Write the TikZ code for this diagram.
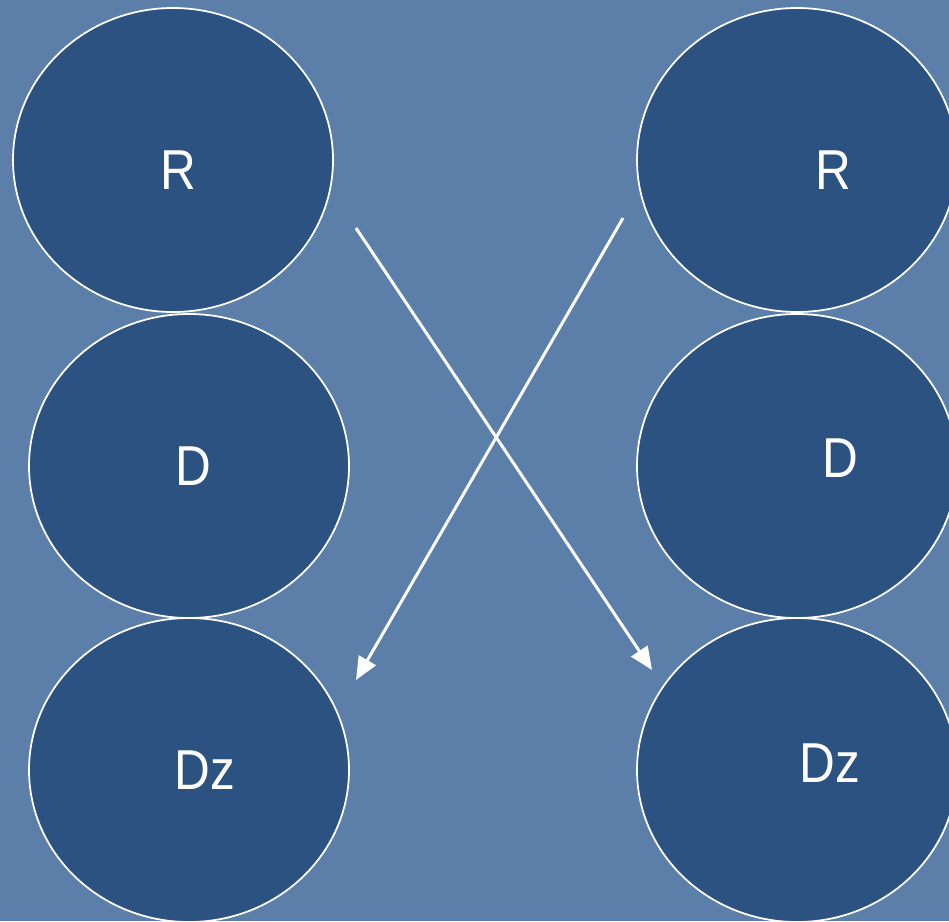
\documentclass[tikz,border=0pt]{standalone}
\usepackage{fontspec}
\setmainfont{Liberation Sans}
\usetikzlibrary{arrows.meta}
\definecolor{bg}{HTML}{5B7FA8}
\definecolor{ell}{HTML}{2B5281}
\tikzset{
  oval/.style={draw=white, line width=0.5pt, fill=ell},
  lbl/.style={text=white, font=\fontsize{16}{19}\selectfont, inner sep=0pt, xscale=0.88},
  arr/.style={draw=white, line width=0.85pt, -{Triangle[length=6.5pt,width=5.5pt]}}
}
\begin{document}
\begin{tikzpicture}[x=0.01cm,y=-0.01cm]
\useasboundingbox (0,0) rectangle (949,921);
\fill[bg] (0,0) rectangle (949,921);
\begin{scope}
\clip (0,0) rectangle (949,921);
\draw[oval] (173,160) ellipse [x radius=160, y radius=152];
\draw[oval] (189,466) ellipse [x radius=160, y radius=152];
\draw[oval] (189,770) ellipse [x radius=160, y radius=152];
\draw[oval] (797,160) ellipse [x radius=160, y radius=152];
\draw[oval] (797,466) ellipse [x radius=160, y radius=152];
\draw[oval] (797,770) ellipse [x radius=160, y radius=152];
\end{scope}
\node[lbl] (r1) at (178,170) {R};
\node[lbl] (d1) at (193,466) {D};
\node[lbl] (z1) at (205,770) {Dz};
\node[lbl] (r2) at (833,170) {R};
\node[lbl] (d2) at (840,458) {D};
\node[lbl] (z2) at (830,763) {Dz};
\coordinate (a1) at (356,228);
\coordinate (a2) at (652,670);
\coordinate (b1) at (623,218);
\coordinate (b2) at (356,680);
\draw[arr] (a1) -- (a2);
\draw[arr] (b1) -- (b2);
\end{tikzpicture}
\end{document}
